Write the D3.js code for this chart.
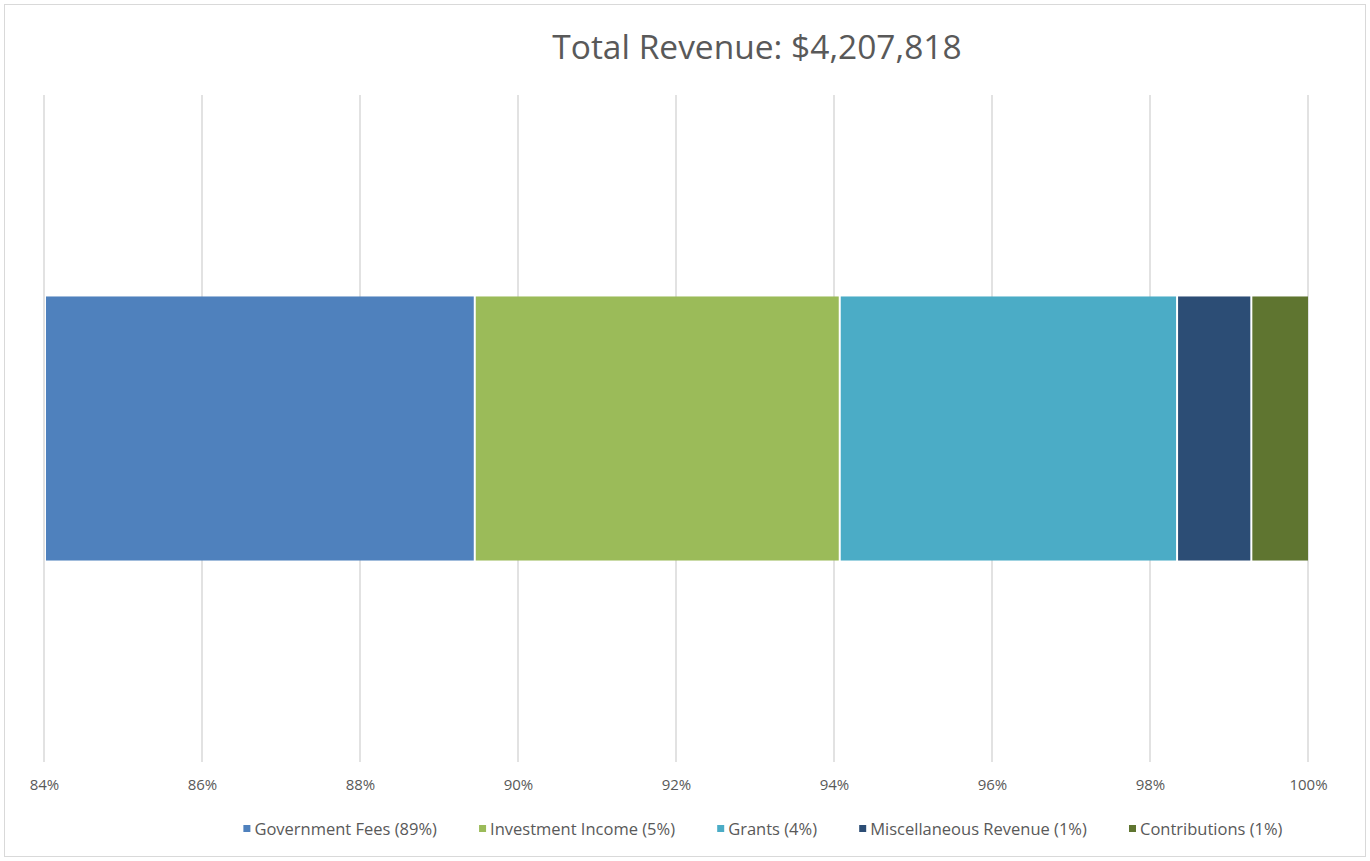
<!DOCTYPE html>
<html>
<head>
<meta charset="utf-8">
<script src="https://cdn.jsdelivr.net/npm/d3@7"></script>
<style>
  body { margin: 0; background: #fff; }
  text { font-family: "Open Sans", "Liberation Sans", sans-serif; fill: #595959; }
</style>
</head>
<body>
<div class="chart"></div>
<script>
const categories = ["Government Fees", "Investment Income", "Grants", "Miscellaneous Revenue", "Contributions"];
const shares = [89.44, 4.62, 4.27, 0.94, 0.73];   // percent of total
const legendPct = ["89%", "5%", "4%", "1%", "1%"];
const tickValues = [84, 86, 88, 90, 92, 94, 96, 98, 100];
const title = "Total Revenue: $4,207,818";

const colors = ["#4F81BD", "#9BBB59", "#4BACC6", "#2C4D75", "#5F7530"];

const W = 1370, H = 861;
const svg = d3.select(".chart").append("svg")
  .attr("width", W)
  .attr("height", H);

// frame
svg.append("rect")
  .attr("x", 4.5).attr("y", 4.5)
  .attr("width", W - 9).attr("height", H - 9)
  .attr("fill", "#fff")
  .attr("stroke", "#d9d9d9");

const x = d3.scaleLinear().domain([84, 100]).range([44, 1308]).clamp(true);
const plotTop = 95, plotBottom = 762;
const y = d3.scaleBand().domain(["Revenue"]).range([plotTop, plotBottom]).paddingInner(0).paddingOuter(0.763);

// gridlines
svg.append("g")
  .selectAll("line")
  .data(tickValues)
  .join("line")
    .attr("x1", d => x(d)).attr("x2", d => x(d))
    .attr("y1", plotTop).attr("y2", plotBottom)
    .attr("stroke", "#d9d9d9")
    .attr("stroke-width", 1.5);

// stacked bar
const row = {};
categories.forEach((c, i) => row[c] = shares[i]);
const stacked = d3.stack().keys(categories)([row]);

svg.append("g")
  .selectAll("rect")
  .data(stacked)
  .join("rect")
    .attr("x", d => x(d[0][0]) + 2)
    .attr("width", d => x(d[0][1]) - x(d[0][0]) - 2)
    .attr("y", y("Revenue"))
    .attr("height", y.bandwidth())
    .attr("fill", (d, i) => colors[i]);

// axis labels
const axis = svg.append("g")
  .attr("transform", `translate(0,${plotBottom})`)
  .call(d3.axisBottom(x).tickValues(tickValues).tickFormat(d => d + "%").tickSize(0).tickPadding(17));
axis.select(".domain").remove();
axis.selectAll("text")
  .attr("font-size", 15)
  .style("font-family", "Open Sans, Liberation Sans, sans-serif")
  .attr("fill", "#595959");

// title
svg.append("text")
  .attr("x", 757).attr("y", 59)
  .attr("text-anchor", "middle")
  .attr("font-size", 33.5)
  .text(title);

// legend
const legend = svg.append("g").attr("transform", "translate(0,829)");
const items = legend.selectAll("g")
  .data(categories)
  .join("g");
items.append("rect")
  .attr("width", 7).attr("height", 7)
  .attr("y", -4)
  .attr("fill", (d, i) => colors[i]);
items.append("text")
  .attr("x", 11)
  .attr("dy", "0.35em")
  .attr("font-size", 16.5)
  .text((d, i) => `${d} (${legendPct[i]})`);

let lx = 0;
const gap = 42;
const offsets = [];
items.each(function() {
  offsets.push(lx);
  lx += this.getBBox().width + gap;
});
const totalW = lx - gap;
const startX = 763 - totalW / 2;
items.attr("transform", (d, i) => `translate(${startX + offsets[i]},0)`);
</script>
</body>
</html>
